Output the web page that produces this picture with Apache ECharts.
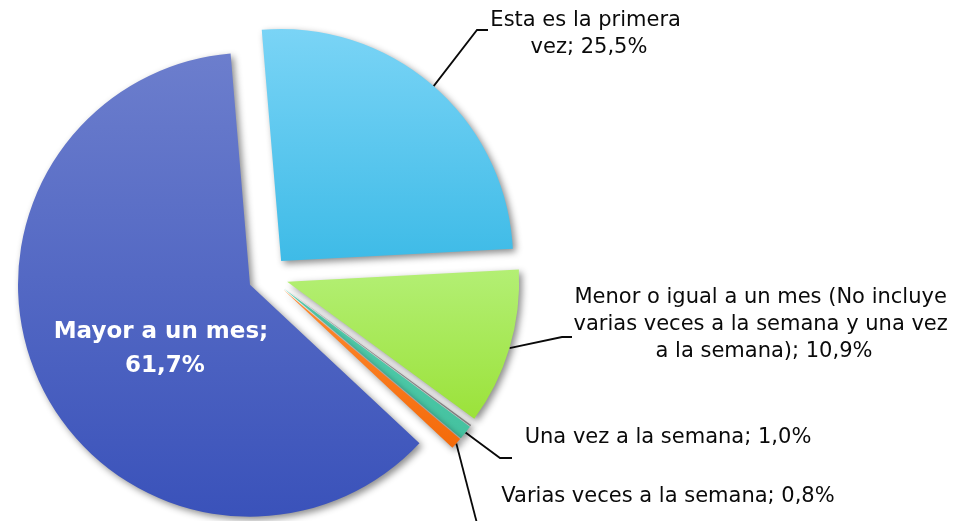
<!DOCTYPE html>
<html>
<head>
<meta charset="utf-8">
<script src="https://cdn.jsdelivr.net/npm/echarts@6/dist/echarts.min.js"></script>
<style>
  html, body { margin: 0; padding: 0; background: #fff; }
  #pieChart { width: 959px; height: 521px; }
</style>
</head>
<body>
<div id="pieChart"></div>
<script>
  let categories = ['Esta es la primera vez', 'Menor o igual a un mes (No incluye varias veces a la semana y una vez a la semana)', 'Otro', 'Una vez a la semana', 'Varias veces a la semana', 'Mayor a un mes']
  let values = [25.5, 10.9, 0.1, 1.0, 0.8, 61.7]
  let colorTop = ['#7ad4f6', '#b3ef74', '#a8a8a8', '#55d0b0', '#ff8b30', '#6c7ecd']
  let colorBottom = ['#3ebbe7', '#9be23a', '#8e8e8e', '#44c19f', '#f46a0a', '#3a52ba']

  // where each label sits (centre of the text block) and the bends of its leader
  let labelSpots = [[589, 34], [764, 325], null, [668, 438], [668, 497], [161, 349]]
  let leaderBends = [[[477, 30], [488, 30]], [[562, 337], [572, 337]], null, [[500, 458], [512, 458]], [[480, 535]], null]

  const cx = 268, cy = 276, radius = 232, startAngle = 94.8, explode = 20

  function fmt(v) {
    return v.toFixed(1).replace('.', ',') + '%'
  }

  let total = values.reduce((a, b) => a + b, 0)

  // one pie per slice so every slice can be pulled out along its own middle angle
  let series = categories.map((name, i) => {
    let before = values.slice(0, i).reduce((a, b) => a + b, 0)
    let mid = (startAngle - (before + values[i] / 2) / total * 360) * Math.PI / 180
    let hasLabel = !!labelSpots[i]
    let data = categories.map((n, j) => {
      if (j !== i) {
        return {
          name: n, value: values[j],
          itemStyle: { color: 'rgba(0,0,0,0)', shadowBlur: 0, shadowColor: 'rgba(0,0,0,0)' },
          label: { show: false }, labelLine: { show: false }
        }
      }
      let item = {
        name: n, value: values[j],
        itemStyle: {
          color: new echarts.graphic.LinearGradient(0, 0, 0, 1, [
            { offset: 0, color: colorTop[j] },
            { offset: 1, color: colorBottom[j] }
          ])
        },
        label: { show: hasLabel },
        labelLine: { show: !!leaderBends[j] }
      }
      if (j === 0) Object.assign(item.label, { width: 205, overflow: 'break' })
      if (j === 1) Object.assign(item.label, { width: 385, overflow: 'break' })
      if (j === 5) {
        Object.assign(item.label, {
          position: 'inner', color: '#fff', fontWeight: 'bold', fontSize: 23,
          lineHeight: 34, width: 240, overflow: 'break'
        })
      }
      return item
    })
    return {
      type: 'pie',
      center: [cx + explode * Math.cos(mid), cy - explode * Math.sin(mid)],
      radius: radius,
      startAngle: startAngle,
      clockwise: true,
      silent: true,
      avoidLabelOverlap: false,
      emphasis: { disabled: true },
      itemStyle: {
        shadowBlur: 7,
        shadowOffsetX: 3,
        shadowOffsetY: 3,
        shadowColor: 'rgba(0,0,0,0.45)'
      },
      label: {
        position: 'outside',
        color: '#0a0a0a',
        fontFamily: 'DejaVu Sans',
        fontSize: 21,
        lineHeight: 27,
        align: 'center',
        formatter: function (p) {
          return p.name + '; ' + fmt(p.value)
        }
      },
      labelLine: {
        lineStyle: { color: '#0a0a0a', width: 1.8 }
      },
      labelLayout: function (p) {
        let k = p.dataIndex
        if (k !== i || !labelSpots[k]) return {}
        let out = {
          x: labelSpots[k][0],
          y: labelSpots[k][1],
          align: 'center',
          verticalAlign: 'middle'
        }
        if (leaderBends[k] && p.labelLinePoints) {
          out.labelLinePoints = [p.labelLinePoints[0]].concat(leaderBends[k])
        }
        return out
      },
      data: data
    }
  })

  const option = {
    backgroundColor: '#fff',
    animation: false,
    series: series
  }

  let eChart = echarts.init(document.getElementById('pieChart'), null, { renderer: 'canvas' })
  eChart.setOption(option)
  window.addEventListener('resize', () => {
    eChart.resize()
  })
</script>
</body>
</html>
